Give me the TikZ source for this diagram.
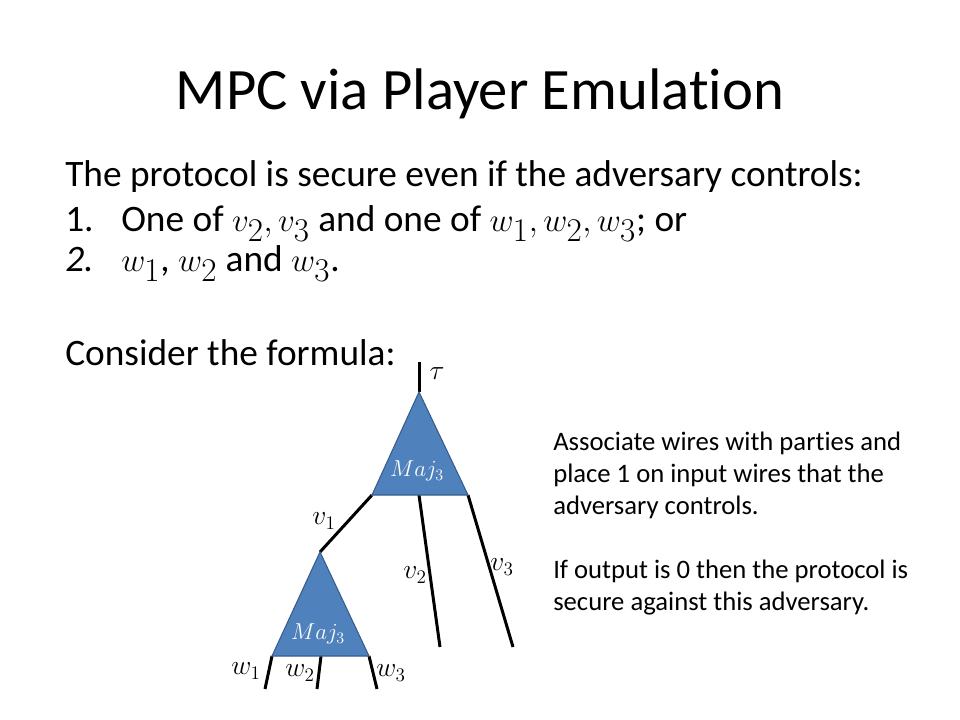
\documentclass[tikz,border=0pt]{standalone}
\usepackage{fontspec}
\setmainfont{Carlito}[Ligatures=NoCommon,RawFeature={-liga}]
\newcommand\bmath[1]{{\fontsize{33}{36}\selectfont$#1$}}
\begin{document}
\begin{tikzpicture}[x=0.75pt,y=-0.75pt]
\definecolor{trifill}{HTML}{4F81BD}
\definecolor{triedge}{HTML}{385D8A}
\tikzset{
  txt/.style={anchor=base west,inner sep=0pt},
  tight/.style={text height=19pt,text depth=6pt},
  wire/.style={line width=2.25pt,black},
  gate/.style={fill=trifill,draw=triedge,line width=0.8pt,line join=miter},
  glabel/.style={inner sep=0pt,text=white,font=\fontsize{18}{20}\selectfont},
  wlabel/.style={inner sep=0pt,font=\fontsize{20}{22}\selectfont}
}
\useasboundingbox[fill=white] (0,0) rectangle (960,720);
% title
\node[inner sep=0pt,anchor=base] (title) at (480,110) {\fontsize{44}{53}\selectfont MPC via Player Emulation};
% body
\begin{scope}[every node/.style={txt,font=\fontsize{28}{34}\selectfont}]
\node (l1) at (65,187) {The protocol is secure even if the adversary controls:};
\node[tight] (n1) at (65,232) {1.};
\node[tight] (l2) at (121,232) {One of \bmath{v_2,v_3} and one of \bmath{w_1,w_2,w_3}; or};
\node[tight] (n2) at (65,272) {\itshape 2.};
\node[tight] (l3) at (121,272) {\bmath{w_1}, \bmath{w_2} and \bmath{w_3}.};
\node (l4) at (65,365) {Consider the formula:};
\end{scope}
% right text
\begin{scope}[every node/.style={txt,font=\fontsize{20}{24}\selectfont}]
\node (r1) at (553,450) {Associate wires with parties and};
\node (r2) at (553,482) {place 1 on input wires that the};
\node (r3) at (553,514) {adversary controls.};
\node (r4) at (553,578) {If output is 0 then the protocol is};
\node (r5) at (553,610) {secure against this adversary.};
\end{scope}
% tree coordinates
\coordinate (top) at (419,362);
\coordinate (A) at (419,392);
\coordinate (AL) at (372,495);
\coordinate (AR) at (468,495);
\coordinate (AM) at (419,495);
\coordinate (B) at (320,552);
\coordinate (BL) at (272,656);
\coordinate (BR) at (369,656);
\coordinate (BM) at (321,656);
\coordinate (v2end) at (440,647);
\coordinate (v3end) at (513,647);
\coordinate (w1end) at (265,689);
\coordinate (w2end) at (317,689);
\coordinate (w3end) at (377,689);
% wires
\draw[wire] (top) -- (A);
\draw[wire] (AL) -- (B);
\draw[wire] (AM) -- (v2end);
\draw[wire] (AR) -- (v3end);
\draw[wire] (BL) -- (w1end);
\draw[wire] (BM) -- (w2end);
\draw[wire] (BR) -- (w3end);
% gates
\draw[gate] (A) -- (AL) -- (AR) -- cycle;
\draw[gate] (B) -- (BL) -- (BR) -- cycle;
\node[glabel] (g1) at (417,471) {$Maj_3$};
\node[glabel] (g2) at (318,634) {$Maj_3$};
% labels
\node[wlabel] (tau) at (437,374) {$\tau$};
\node[wlabel] (lv1) at (324,521) {$v_1$};
\node[wlabel] (lv2) at (415,575) {$v_2$};
\node[wlabel] (lv3) at (502,567) {$v_3$};
\node[wlabel] (lw1) at (246,671) {$w_1$};
\node[wlabel] (lw2) at (300,673) {$w_2$};
\node[wlabel] (lw3) at (391,673) {$w_3$};
\end{tikzpicture}
\end{document}
